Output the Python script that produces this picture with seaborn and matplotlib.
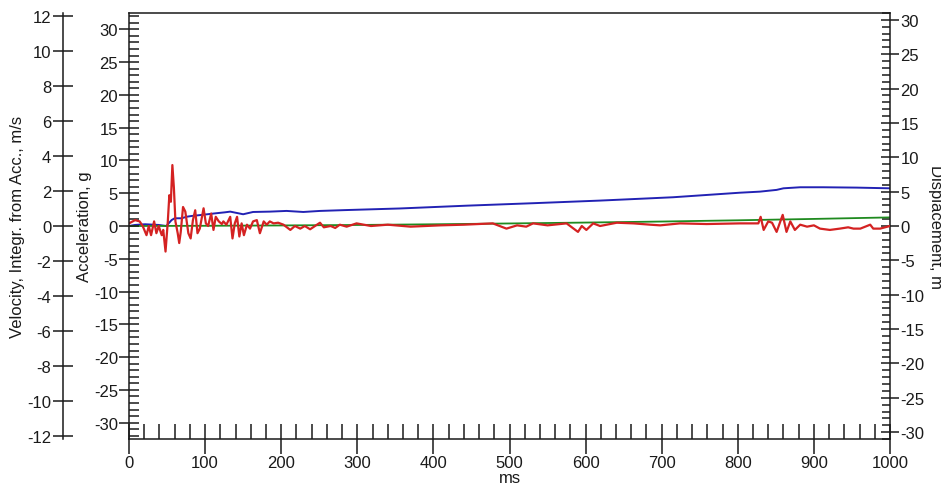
import matplotlib
matplotlib.use("Agg")
import matplotlib.pyplot as plt
from matplotlib.ticker import MultipleLocator
import pandas as pd
import seaborn as sns

# Acceleration, g
acc_ms = [0, 8, 14, 18, 23, 26, 29, 33, 36, 39, 43, 45, 48, 51, 53, 55, 57, 59, 61, 64,
          66, 68, 71, 74, 78, 81, 84, 87, 90, 93, 98, 101, 104, 108, 111, 114, 118, 122, 124, 128,
          133, 136, 139, 142, 145, 148, 151, 155, 159, 163, 168, 172, 177, 181, 185, 190, 196, 203, 212, 218,
          225, 231, 238, 247, 251, 256, 265, 271, 277, 286, 299, 318, 340, 370, 409, 440, 478, 487, 496, 510,
          522, 531, 550, 575, 590, 595, 601, 610, 619, 641, 663, 685, 698, 724, 759, 803, 827, 830, 834, 840,
          845, 851, 859, 864, 869, 875, 882, 891, 900, 908, 921, 934, 945, 952, 961, 974, 978, 987, 1000]
acc_g = [0.4, 0.9, 0.7, 0.0, -1.4, 0.0, -1.4, 0.7, -1.1, 0.0, -1.4, -0.6, -3.9, 0.7, 4.7, 3.7, 9.3, 5.8, 0.7, -1.1,
         -2.6, -0.9, 2.9, 2.2, -1.1, -1.9, 0.9, 2.4, -1.1, -0.4, 2.7, 0.4, 0.0, 1.9, -0.6, 1.4, 0.7, 0.3, 0.7, 0.2,
         1.4, -1.9, 0.4, 1.4, -1.6, 0.4, -1.4, 0.2, -0.4, 0.7, 0.9, -1.1, 0.7, 0.2, 0.7, 0.4, 0.5, 0.2, -0.6, 0.0,
         -0.4, 0.0, -0.5, 0.2, 0.5, -0.2, 0.0, -0.3, 0.2, -0.1, 0.4, 0.0, 0.2, -0.1, 0.1, 0.2, 0.4, 0.0, -0.4, 0.1,
         -0.1, 0.4, 0.1, 0.4, -0.9, 0.0, -0.6, 0.4, 0.0, 0.5, 0.4, 0.2, 0.1, 0.4, 0.3, 0.4, 0.4, 1.4, -0.6, 0.7,
         0.5, -0.9, 1.7, -0.9, 0.7, -0.6, 0.2, -0.1, 0.1, -0.4, -0.6, -0.4, -0.2, -0.4, -0.4, 0.2, -0.4, -0.4, 0.0]

# Velocity integrated from acceleration, m/s
vel_ms = [0, 8, 21, 39, 49, 56, 60, 69, 76, 82, 95, 113, 126, 133, 150, 163, 185, 207, 229, 251,
          286, 356, 444, 531, 619, 685, 715, 759, 803, 829, 851, 860, 882, 912, 956, 1000]
vel_ms_s = [0.0, 0.06, 0.1, 0.06, 0.0, 0.34, 0.44, 0.44, 0.53, 0.57, 0.63, 0.72, 0.78, 0.82, 0.67, 0.8, 0.82, 0.86, 0.8, 0.86,
            0.91, 1.0, 1.16, 1.3, 1.45, 1.58, 1.64, 1.77, 1.9, 1.96, 2.06, 2.15, 2.21, 2.21, 2.19, 2.15]

# Displacement, m
disp_ms = [0, 100, 200, 300, 400, 500, 600, 700, 800, 900, 1000]
disp_m = [0.0, 0.03, 0.08, 0.15, 0.25, 0.37, 0.5, 0.65, 0.83, 1.03, 1.25]

acc_df = pd.DataFrame({"ms": acc_ms, "g": acc_g})
vel_df = pd.DataFrame({"ms": vel_ms, "v": vel_ms_s})
disp_df = pd.DataFrame({"ms": disp_ms, "d": disp_m})

sns.set_theme(style="white")
plt.rcParams["font.family"] = ["Liberation Sans", "DejaVu Sans"]
plt.rcParams["axes.unicode_minus"] = False
TICK_FS = 12
LABEL_FS = 12
INK = "#1a1a1a"
W, H = 941, 489

fig = plt.figure(figsize=(W / 100, H / 100), dpi=100)
ax = fig.add_axes([129 / W, 49 / H, 761 / W, 426 / H])
ax_v = ax.twinx()
ax_d = ax.twinx()

# draw the acceleration axes on top, without hiding the others
ax.set_zorder(3)
ax.patch.set_visible(False)

sns.lineplot(data=disp_df, x="ms", y="d", ax=ax_d, color="#1f8a1f", lw=1.3)
sns.lineplot(data=vel_df, x="ms", y="v", ax=ax_v, color="#2222b4", lw=1.4)
sns.lineplot(data=acc_df, x="ms", y="g", ax=ax, color="#d42222", lw=1.6)

spine_kw = dict(color=INK, linewidth=1.1)

# acceleration (inner left) axis
ax.set_xlim(0, 1000)
ax.set_ylim(-32.5, 32.5)
ax.yaxis.set_major_locator(MultipleLocator(5))
ax.yaxis.set_minor_locator(MultipleLocator(1))
ax.xaxis.set_major_locator(MultipleLocator(100))
ax.xaxis.set_minor_locator(MultipleLocator(20))
ax.spines["right"].set_visible(False)
for s in ("left", "top", "bottom"):
    ax.spines[s].set_visible(True)
    ax.spines[s].set(**spine_kw)
ax.tick_params(axis="y", which="major", direction="inout", length=14, width=1.1, color=INK,
               labelsize=TICK_FS, pad=1, left=True, right=False, labelcolor=INK)
ax.tick_params(axis="y", which="minor", direction="in", length=7, width=1.1, color=INK, left=True)
ax.tick_params(axis="x", which="major", direction="inout", length=21, width=1.1, color=INK,
               labelsize=TICK_FS, pad=1, bottom=True, top=False, labelcolor=INK)
ax.tick_params(axis="x", which="minor", direction="in", length=11, width=1.1, color=INK, bottom=True)
ax.set_xlabel("ms", fontsize=LABEL_FS, labelpad=0, color=INK)
ax.set_ylabel("")
ax.grid(False)

# velocity (outer left) axis
ax_v.set_ylim(-12.15, 12.15)
ax_v.yaxis.set_major_locator(MultipleLocator(2))
ax_v.yaxis.set_ticks_position("left")
ax_v.yaxis.set_label_position("left")
for s in ("right", "top", "bottom"):
    ax_v.spines[s].set_visible(False)
ax_v.spines["left"].set_visible(True)
ax_v.spines["left"].set_position(("axes", (63 - 129) / 761))
ax_v.spines["left"].set(**spine_kw)
ax_v.tick_params(axis="y", which="major", direction="inout", length=15, width=1.1, color=INK,
                 labelsize=TICK_FS, pad=1, left=True, right=False, labelcolor=INK)
ax_v.set_ylabel("")
ax_v.grid(False)

# displacement (right) axis
ax_d.set_ylim(-31, 31)
ax_d.yaxis.set_major_locator(MultipleLocator(5))
ax_d.yaxis.set_minor_locator(MultipleLocator(1))
for s in ("left", "top", "bottom"):
    ax_d.spines[s].set_visible(False)
ax_d.spines["right"].set_visible(True)
ax_d.spines["right"].set(**spine_kw)
ax_d.tick_params(axis="y", which="major", direction="inout", length=13, width=1.1, color=INK,
                 labelsize=TICK_FS, pad=1, right=True, left=False, labelcolor=INK)
ax_d.tick_params(axis="y", which="minor", direction="in", length=6, width=1.1, color=INK, right=True)
ax_d.set_ylabel("")
ax_d.grid(False)

yc = 1 - 227 / H
fig.text(18 / W, yc, "Velocity, Integr. from Acc., m/s", rotation=90, ha="center", va="center",
         fontsize=LABEL_FS, color=INK)
fig.text(84 / W, yc, "Acceleration, g", rotation=90, ha="center", va="center",
         fontsize=LABEL_FS, color=INK)
fig.text(935 / W, yc, "Displacement, m", rotation=270, ha="center", va="center",
         fontsize=LABEL_FS, color=INK)

fig.savefig("out.png", dpi=100)
